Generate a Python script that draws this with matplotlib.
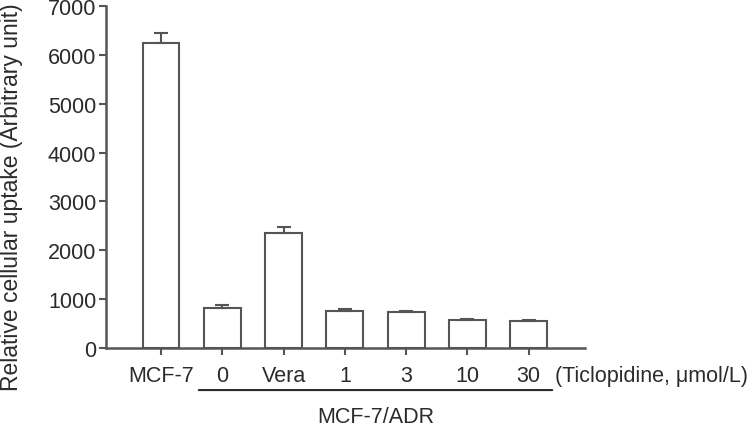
import matplotlib.pyplot as plt
import numpy as np

plt.rcParams['font.family'] = ['Liberation Sans', 'DejaVu Sans']

labels = ["MCF-7", "0", "Vera", "1", "3", "10", "30"]
values = [6250, 810, 2350, 750, 730, 575, 550]
errors = [200, 70, 120, 50, 30, 25, 25]
group_label = "MCF-7/ADR"
unit_label = "(Ticlopidine, μmol/L)"

txt = "#2b2b2b"
edge = "#555555"
fs = 15.5

fig = plt.figure(figsize=(7.5, 4.27), dpi=100)
ax = fig.add_axes([0.1413, 0.1827, 0.6387, 0.801])

x = np.arange(len(values))
ax.bar(x, values, width=0.6, color="white", edgecolor=edge, linewidth=1.5, zorder=2)
ax.errorbar(x, values, yerr=[np.zeros(len(errors)), errors], fmt="none",
            ecolor=edge, elinewidth=1.5, capsize=5, capthick=1.5, zorder=3)

ax.set_xlim(-0.9, 6.92)
ax.set_ylim(0, 7000)
ax.set_yticks(range(0, 7001, 1000))
ax.set_xticks(x)
ax.set_xticklabels(labels)

for s in ("top", "right"):
    ax.spines[s].set_visible(False)
for s in ("left", "bottom"):
    ax.spines[s].set_color(edge)
    ax.spines[s].set_linewidth(1.8)
ax.tick_params(axis="both", colors=edge, width=1.5, length=5, labelsize=fs,
               labelcolor=txt)
ax.tick_params(axis="y", pad=2)
ax.tick_params(axis="x", pad=7)

fig.text(12 / 750, 1 - 197 / 427, "Relative cellular uptake (Arbitrary unit)",
         rotation=90, ha="center", va="center", fontsize=16.5, color=txt)

# group bracket under MCF-7/ADR
ax.annotate("", xy=(0.57, -0.123), xytext=(6.43, -0.123), xycoords=("data", "axes fraction"),
            textcoords=("data", "axes fraction"),
            arrowprops=dict(arrowstyle="-", color=txt, lw=1.5), annotation_clip=False)
ax.text(3.5, -0.2, group_label, transform=ax.get_xaxis_transform(), ha="center",
        va="center", fontsize=fs, color=txt, clip_on=False)
ax.text(6.43, -0.08, unit_label, transform=ax.get_xaxis_transform(), ha="left",
        va="center", fontsize=fs, color=txt, clip_on=False)

fig.savefig("out.png", dpi=100)
